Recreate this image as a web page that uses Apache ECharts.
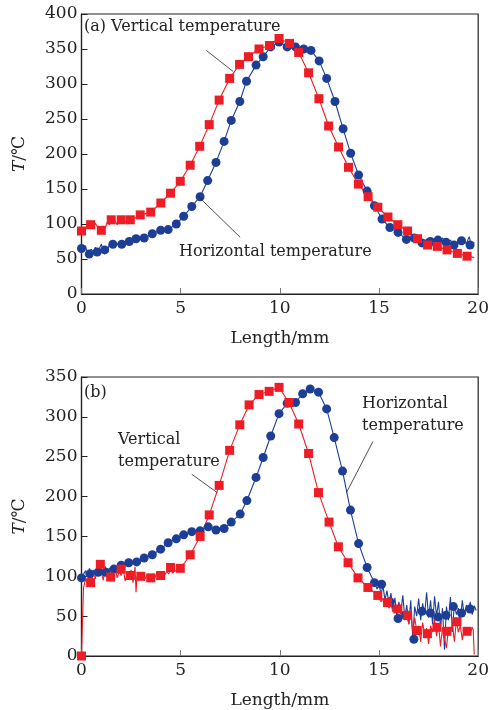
<!DOCTYPE html>
<html><head><meta charset="utf-8">
<script src="https://cdn.jsdelivr.net/npm/echarts@6/dist/echarts.min.js"></script>
<style>html,body{margin:0;padding:0;background:#fff}#c{width:492px;height:710px}</style>
</head><body><div id="c"></div>
<script>
// ---- tick settings ----
const xTickLabels = [0, 5, 10, 15, 20];
const yTickLabelsA = [0, 50, 100, 150, 200, 250, 300, 350, 400];
const yTickLabelsB = [0, 50, 100, 150, 200, 250, 300, 350];

// ---- panel (a) ----
const redMarksA = [[0,90],[0.46,99],[1.0,91],[1.5,106],[2.0,106],[2.46,106],[2.96,113],[3.49,117],[4.0,130],[4.49,144],[4.98,161],[5.48,184],[5.96,211],[6.44,242],[6.94,277],[7.47,308],[7.97,328],[8.42,339],[8.95,350],[9.48,355],[9.96,365],[10.49,358],[10.95,345],[11.45,316],[11.97,279],[12.46,240],[12.96,210],[13.46,181],[13.96,157],[14.45,139],[14.94,124],[15.45,110],[15.95,99],[16.44,90],[16.94,79],[17.45,70],[17.94,68],[18.43,63],[18.95,58],[19.44,54]];
const redNoiseA = [[0,90],[0.1,95],[0.2,92],[0.3,100],[0.4,97],[0.5,99],[0.6,95],[0.7,101],[0.8,96],[0.9,92],[1.0,91],[1.1,97],[1.2,94],[1.3,103],[1.4,99],[1.5,106],[1.6,101],[1.7,104],[1.8,99],[1.9,107],[2.0,106],[2.1,101],[2.2,104],[2.3,100],[2.4,108],[2.5,104],[2.6,102],[2.7,109],[2.8,111],[2.9,110],[3.0,113]];
const redTailA = [[19.5,55],[19.65,53],[19.8,52]];
const blueMarksA = [[0,65],[0.39,57],[0.79,60],[1.17,63],[1.58,71],[2.03,71],[2.41,75],[2.75,79],[3.16,80],[3.57,86],[3.99,91],[4.37,92],[4.78,100],[5.15,111],[5.56,125],[5.98,139],[6.36,162],[6.78,188],[7.19,218],[7.55,248],[7.98,275],[8.32,304],[8.8,327],[9.16,339],[9.54,353],[9.96,360],[10.37,353],[10.79,353],[11.2,350],[11.57,348],[11.98,333],[12.36,308],[12.78,275],[13.19,236],[13.57,201],[13.97,170],[14.4,147],[14.77,126],[15.15,107],[15.55,95],[15.96,88],[16.38,78],[16.78,80],[17.17,73],[17.59,75],[17.97,77],[18.38,74],[18.78,70],[19.16,76],[19.59,70]];
const blueNoiseA = [[0,65],[0.1,61],[0.2,69],[0.3,58],[0.4,57],[0.5,64],[0.6,60],[0.7,67],[0.8,60],[0.9,65],[1.0,71],[1.1,63],[1.2,68],[1.3,62],[1.4,70],[1.5,66],[1.6,71],[1.7,69],[1.8,72],[1.9,70],[2.0,71]];
const blueTailA = [[17.25,73],[17.4,78],[17.6,72],[17.8,79],[18.0,74],[18.2,80],[18.4,71],[18.6,77],[18.8,69],[19.0,76],[19.2,80],[19.4,72],[19.55,82],[19.65,69],[19.8,74]];

// ---- panel (b) ----
const redMarksB = [[0,0],[0.46,92],[0.95,115],[1.47,99],[2.0,109],[2.46,101],[2.99,100],[3.49,98],[3.99,101],[4.49,111],[4.98,110],[5.48,127],[5.98,150],[6.44,177],[6.94,214],[7.47,258],[7.98,290],[8.45,315],[8.95,328],[9.46,332],[9.96,337],[10.46,318],[10.95,291],[11.45,254],[11.95,205],[12.48,168],[12.95,137],[13.44,117],[13.94,98],[14.44,86],[14.94,76],[15.43,67],[15.95,59],[16.44,51],[16.92,32],[17.44,28],[17.92,36],[18.43,31],[18.93,43],[19.44,31]];
const redNoiseB = [[0,0],[0.08,0],[0.1,85],[0.2,96],[0.3,92],[0.4,108],[0.5,93],[0.6,103],[0.7,97],[0.8,110],[0.9,119],[1.0,105],[1.1,95],[1.2,112],[1.3,99],[1.4,107],[1.5,96],[1.6,104],[1.7,110],[1.8,98],[1.9,106],[2.0,101],[2.1,110],[2.2,94],[2.3,103],[2.4,98],[2.5,108],[2.6,92],[2.7,112],[2.75,80],[2.8,99],[2.9,104],[3.0,95],[3.1,103],[3.2,97],[3.3,101],[3.4,94],[3.5,100],[3.6,103],[3.7,98],[3.8,105],[3.9,100],[4.0,103],[4.1,99],[4.2,102],[4.3,106],[4.4,103],[4.5,108],[4.6,104],[4.7,107],[4.8,109],[4.9,106],[5.0,110],[5.1,114],[5.2,117]];
const redTailB = [[15.0,74],[15.1,68],[15.2,72],[15.3,62],[15.4,69],[15.5,60],[15.6,66],[15.7,55],[15.8,63],[15.9,57],[16.0,60],[16.1,52],[16.2,56],[16.3,45],[16.4,52],[16.5,40],[16.6,55],[16.7,30],[16.8,48],[16.9,32],[17.0,38],[17.1,18],[17.2,42],[17.3,28],[17.4,35],[17.5,15],[17.6,38],[17.7,30],[17.8,46],[17.9,25],[18.0,40],[18.1,12],[18.2,36],[18.3,22],[18.4,10],[18.5,34],[18.6,28],[18.7,40],[18.8,18],[18.9,45],[19.0,30],[19.1,38],[19.2,20],[19.3,35],[19.4,30],[19.5,34],[19.6,28],[19.7,36],[19.75,33],[19.8,2]];
const blueMarksB = [[0,98],[0.42,103],[0.84,105],[1.22,105],[1.63,109],[2.0,114],[2.38,117],[2.78,118],[3.16,123],[3.57,127],[3.99,134],[4.37,142],[4.78,147],[5.15,152],[5.56,156],[5.98,157],[6.39,162],[6.78,158],[7.19,160],[7.55,168],[8.0,178],[8.34,195],[8.8,224],[9.16,249],[9.54,276],[9.96,304],[10.37,317],[10.79,318],[11.15,329],[11.53,335],[11.95,331],[12.36,310],[12.74,274],[13.16,232],[13.56,183],[13.97,141],[14.4,111],[14.77,92],[15.13,90],[15.55,68],[15.96,47],[16.34,51],[16.76,21],[17.17,56],[17.59,54],[17.97,49],[18.38,51],[18.75,62],[19.16,54],[19.59,59]];
const blueNoiseB = [[0,98],[0.1,100],[0.2,107],[0.3,101],[0.4,110],[0.5,103],[0.6,108],[0.7,102],[0.8,111],[0.9,104],[1.0,109],[1.1,103],[1.2,112],[1.3,106],[1.4,110],[1.5,105],[1.6,114],[1.7,108],[1.8,113],[1.9,111],[2.0,114]];
const blueTailB = [[14.8,92],[14.9,84],[15.0,90],[15.1,78],[15.2,88],[15.3,70],[15.4,82],[15.5,66],[15.6,79],[15.7,58],[15.8,73],[15.9,50],[16.0,68],[16.1,55],[16.2,76],[16.3,48],[16.4,64],[16.5,40],[16.6,70],[16.7,22],[16.8,62],[16.9,50],[17.0,72],[17.1,45],[17.2,66],[17.3,52],[17.4,80],[17.5,48],[17.6,70],[17.7,40],[17.8,75],[17.9,50],[18.0,68],[18.1,35],[18.2,60],[18.3,8],[18.4,62],[18.5,45],[18.6,74],[18.7,30],[18.8,66],[18.9,52],[19.0,60],[19.1,44],[19.2,70],[19.3,50],[19.4,64],[19.5,55],[19.6,68],[19.7,52],[19.8,63],[19.9,57]];

// leader lines in data coordinates
const leadersA = [[[6.29,348],[7.64,318]], [[8.0,81],[5.9,139]]];
const leadersB = [[[5.56,228],[6.84,205]], [[14.69,269],[13.36,205]]];

const RED = '#ee1c25', BLUE = '#1d3e97';
const FONT = 'DejaVu Serif';

function trace(marks, noises) {
  const pts = marks.filter(p => !noises.some(n => p[0] >= n[0][0] && p[0] <= n[n.length-1][0]));
  noises.forEach(n => n.forEach(p => pts.push(p)));
  return pts.sort((a,b) => a[0]-b[0]);
}

function lineSeries(idx, data, color, leaders) {
  const s = {
    type: 'line', xAxisIndex: idx, yAxisIndex: idx, data: data, showSymbol: false, symbol: 'none',
    lineStyle: { color: color, width: 1.1 }, silent: true, animation: false, z: 2
  };
  if (leaders) {
    s.markLine = { silent: true, symbol: 'none', animation: false,
      lineStyle: { color: '#222', width: 0.8, type: 'solid' }, label: { show: false },
      data: leaders.map(l => [{ coord: l[0] }, { coord: l[1] }]) };
  }
  return s;
}
function markSeries(idx, data, color, symbol, size) {
  return { type: 'scatter', xAxisIndex: idx, yAxisIndex: idx, data: data, symbol: symbol, symbolSize: size,
    itemStyle: { color: color, opacity: 1 }, silent: true, animation: false, z: 3 };
}

const tickText = { fontFamily: FONT, fontSize: 17, color: '#222' };
const nameText = { fontFamily: FONT, fontSize: 17, color: '#222' };
function xAxis(idx) {
  return { type: 'value', gridIndex: idx, min: xTickLabels[0], max: xTickLabels[xTickLabels.length-1], interval: 5,
    name: 'Length/mm', nameLocation: 'middle', nameGap: 36, nameTextStyle: nameText,
    axisLine: { lineStyle: { color: '#222', width: 1.2 } },
    axisTick: { inside: true, length: 6, lineStyle: { color: '#777' } },
    axisLabel: Object.assign({ margin: 6 }, tickText), splitLine: { show: false } };
}
function yAxis(idx, ticks) {
  return { type: 'value', gridIndex: idx, min: ticks[0], max: ticks[ticks.length-1], interval: 50,
    name: '{i|T}/℃', nameLocation: 'middle', nameGap: 53,
    nameTextStyle: Object.assign({ rich: { i: { fontFamily: FONT, fontSize: 17, fontStyle: 'italic', color: '#222' } } }, nameText),
    axisLine: { lineStyle: { color: '#222', width: 1.2 } },
    axisTick: { inside: true, length: 6, lineStyle: { color: '#222' } },
    axisLabel: Object.assign({ margin: 4 }, tickText), splitLine: { show: false } };
}

function txt(text, x, y) {
  return { type: 'text', x: x, y: y, silent: true,
    style: { text: text, font: '16px "' + FONT + '"', fill: '#222', verticalAlign: 'middle', align: 'left' } };
}

const chart = echarts.init(document.getElementById('c'));
chart.setOption({
  backgroundColor: '#fff',
  animation: false,
  grid: [
    { left: 81.5, top: 14, width: 402.5, height: 280, show: true, borderColor: '#222', borderWidth: 1.2 },
    { left: 81.5, top: 377, width: 403, height: 281, show: true, borderColor: '#222', borderWidth: 1.2 }
  ],
  xAxis: [xAxis(0), xAxis(1)],
  yAxis: [yAxis(0, yTickLabelsA), yAxis(1, yTickLabelsB)],
  series: [
    lineSeries(0, trace(blueMarksA, [blueNoiseA, blueTailA]), BLUE, null),
    markSeries(0, blueMarksA, BLUE, 'circle', 9),
    lineSeries(0, trace(redMarksA, [redNoiseA, redTailA]), RED, leadersA),
    markSeries(0, redMarksA, RED, 'rect', 9),
    lineSeries(1, trace(blueMarksB, [blueNoiseB, blueTailB]), BLUE, null),
    markSeries(1, blueMarksB, BLUE, 'circle', 9),
    lineSeries(1, trace(redMarksB, [redNoiseB, redTailB]), RED, leadersB),
    markSeries(1, redMarksB, RED, 'rect', 9)
  ],
  graphic: [
    txt('(a) Vertical temperature', 84, 27),
    txt('Horizontal temperature', 179, 252),
    txt('(b)', 84, 393),
    txt('Vertical', 118, 440),
    txt('temperature', 118, 462),
    txt('Horizontal', 362, 404),
    txt('temperature', 362, 426)
  ]
});
</script>
</body></html>
